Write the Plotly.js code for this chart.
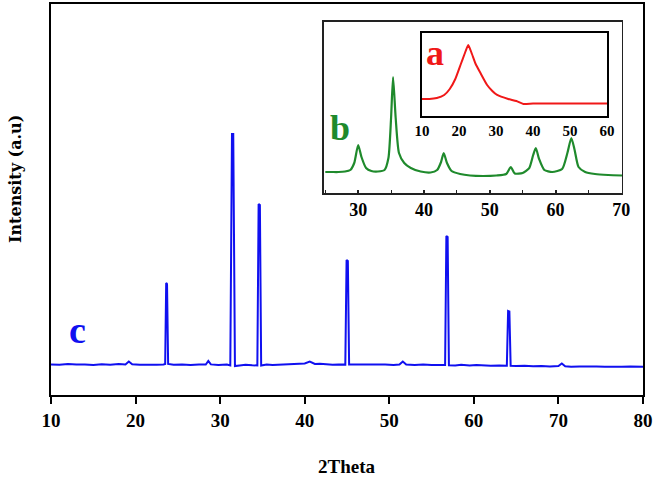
<!DOCTYPE html>
<html>
<head>
<meta charset="utf-8">
<script src="https://cdn.plot.ly/plotly-3.0.1.min.js"></script>
<style>html,body{margin:0;padding:0;background:#fff;}#chart{width:658px;height:478px;}</style>
</head>
<body>
<div id="chart"></div>
<script>
// Sample c (main pattern)
const cTheta = [10,11,12,13,14,15,16,17,18,18.8,19.2,19.6,20.5,21.5,22.5,23.3,23.5,23.62,23.72,23.85,24.5,25.5,26.5,27.5,28.3,28.6,28.9,29.8,30.8,31.2,31.4,31.55,31.75,32.3,33,33.8,34.4,34.55,34.7,34.85,35.5,36.2,37,37.8,38.5,39.3,40,40.6,41.2,41.8,42.5,43.3,44,44.8,44.95,45.1,45.25,45.9,46.5,47.5,48.5,49.5,50.5,51.2,51.6,52,53,54,55,56,56.6,56.75,56.9,57.05,57.8,58.5,59.5,60.3,61,62,63,63.9,64.05,64.2,64.35,65,66,67,68,69,70,70.4,70.8,71.5,72.5,73.5,74.5,75.5,76.5,77.5,78.5,79.5,80];
const cInt = [30.5,30.2,31,30.4,30.6,30.1,30.8,30.3,30.9,30.6,33.5,30.8,30.2,30.6,30.3,30.5,31,112,111,31,30.2,30.6,30.1,30.4,30.5,34,30.6,30.1,30.4,29.5,261,261,29,29.6,30.2,29.7,29.5,191,190,29.5,30.6,30.1,30.4,30.8,30.6,31.2,31.5,33.4,31,31.3,30.5,30.3,30.6,30.4,135,134,30.5,30.6,30.2,30.7,30.3,30.5,30,30.4,33.5,30.6,30.1,30.5,29.9,30.3,30,159,158,29.8,29.5,30.3,29.6,30,29.6,29.2,29.5,29.3,84,83.5,29.3,28.9,29.2,28.7,29,28.5,29,31.5,28.8,28.2,28.5,28.1,28.4,28.3,28.6,28.2,28.4,28,28.3];

// Sample b (inset)
const bTheta = [25,26,27,28,28.8,29.4,30.0,30.5,31.2,32,33,34,34.6,35.0,35.3,35.7,36.2,37,38,39.5,41,42,42.6,43.0,43.5,44.2,45.5,47,49,51,52.5,53.2,53.8,55,56,56.6,57.0,57.5,58.3,59.5,61,61.8,62.4,62.9,63.5,64.5,66,68,70.1];
const bInt = [21,21,21,21.5,23,30,48,36,25,22,21.5,23,35,75,116,75,40,30,25,21.5,20.5,23,31,40,30,22,19,17.5,17,17.5,19,26,19.5,20,25,38,45,34,23,21,24,40,55,43,26,21,19,18,17.5];

// Sample a (inner inset)
const aTheta = [10,12,14,16,17.5,19,20.5,21.5,22.5,23.5,24.5,25.8,27.6,29,30.3,33.3,35.5,37.4,40,45,50,55,60];
const aInt = [17,17,18,21,27,37,52,62,71,62,52,43,31,25,21,17,15,12,12.5,12.5,12.5,12.5,12.5];

const mainTicks = [10,20,30,40,50,60,70,80];
const bTicks = [30,40,50,60,70];
const aTicks = [10,20,30,40,50,60];

const serifB = {family:'Liberation Serif, Times New Roman, serif', weight:'bold', color:'#000'};

const traces = [
  {x:cTheta, y:cInt, type:'scatter', mode:'lines', line:{color:'#1010f0', width:2}, xaxis:'x', yaxis:'y', hoverinfo:'skip'},
  {x:bTheta, y:bInt, type:'scatter', mode:'lines', line:{color:'#1f8a2c', width:2.2, shape:'spline', smoothing:0.6}, xaxis:'x2', yaxis:'y2', hoverinfo:'skip'},
  {x:aTheta, y:aInt, type:'scatter', mode:'lines', line:{color:'#f01818', width:2, shape:'spline', smoothing:0.5}, xaxis:'x3', yaxis:'y3', hoverinfo:'skip'}
];

const layout = {
  width:658, height:478,
  margin:{l:51, r:15, t:4, b:83},
  paper_bgcolor:'#fff', plot_bgcolor:'#fff',
  showlegend:false,
  xaxis:{domain:[0,1], range:[10,80], tickvals:mainTicks, ticks:'outside', ticklen:7, tickwidth:2, tickcolor:'#000',
         showline:true, mirror:true, linewidth:2, linecolor:'#000', showgrid:false, zeroline:false,
         tickfont:Object.assign({size:19}, serifB)},
  yaxis:{domain:[0,1], range:[0,391], showticklabels:false, ticks:'', showline:true, mirror:true, linewidth:2, linecolor:'#000', showgrid:false, zeroline:false},
  xaxis2:{domain:[0.4611,0.9645], anchor:'y2', range:[24.8,70.1], tickvals:bTicks, ticks:'inside', ticklen:3, tickwidth:2, tickcolor:'#222',
          minor:{dtick:5, tick0:0, ticks:'inside', ticklen:3, tickcolor:'#222', tickwidth:1},
          showline:true, mirror:true, linewidth:1.5, linecolor:'#222', showgrid:false, zeroline:false,
          tickfont:Object.assign({size:18}, serifB)},
  yaxis2:{domain:[0.5166,0.954], anchor:'x2', range:[0,171], showticklabels:false, ticks:'', showline:true, mirror:true, linewidth:1.5, linecolor:'#222', showgrid:false, zeroline:false},
  xaxis3:{domain:[0.6267,0.9392], anchor:'y3', range:[10,60], tickvals:aTicks, ticks:'',
          showline:true, mirror:true, linewidth:2, linecolor:'#000', showgrid:false, zeroline:false,
          tickfont:Object.assign({size:15}, serifB)},
  yaxis3:{domain:[0.7136,0.9258], anchor:'x3', range:[0,83], showticklabels:false, ticks:'', showline:true, mirror:true, linewidth:2, linecolor:'#000', showgrid:false, zeroline:false},
  annotations:[
    {text:'2Theta', xref:'paper', yref:'paper', x:0.5, y:-0.1816, xanchor:'center', yanchor:'middle', showarrow:false, font:Object.assign({size:19}, serifB)},
    {text:'Intensity (a.u)', xref:'paper', yref:'paper', x:-0.061, y:0.552, xanchor:'center', yanchor:'middle', textangle:-90, showarrow:false,
     font:{family:'DejaVu Serif, serif', weight:'bold', size:16, color:'#000'}},
    {text:'c', xref:'paper', yref:'paper', x:0.0456, y:0.166, xanchor:'center', yanchor:'middle', showarrow:false, font:Object.assign({}, serifB, {size:38, color:'#1010f0'})},
    {text:'b', xref:'paper', yref:'paper', x:0.488, y:0.683, xanchor:'center', yanchor:'middle', showarrow:false, font:Object.assign({}, serifB, {size:36, color:'#1f8a2c'})},
    {text:'a', xref:'paper', yref:'paper', x:0.648, y:0.875, xanchor:'center', yanchor:'middle', showarrow:false, font:Object.assign({}, serifB, {size:36, color:'#f01818'})}
  ]
};

Plotly.newPlot('chart', traces, layout, {displayModeBar:false, staticPlot:true});
</script>
</body>
</html>
